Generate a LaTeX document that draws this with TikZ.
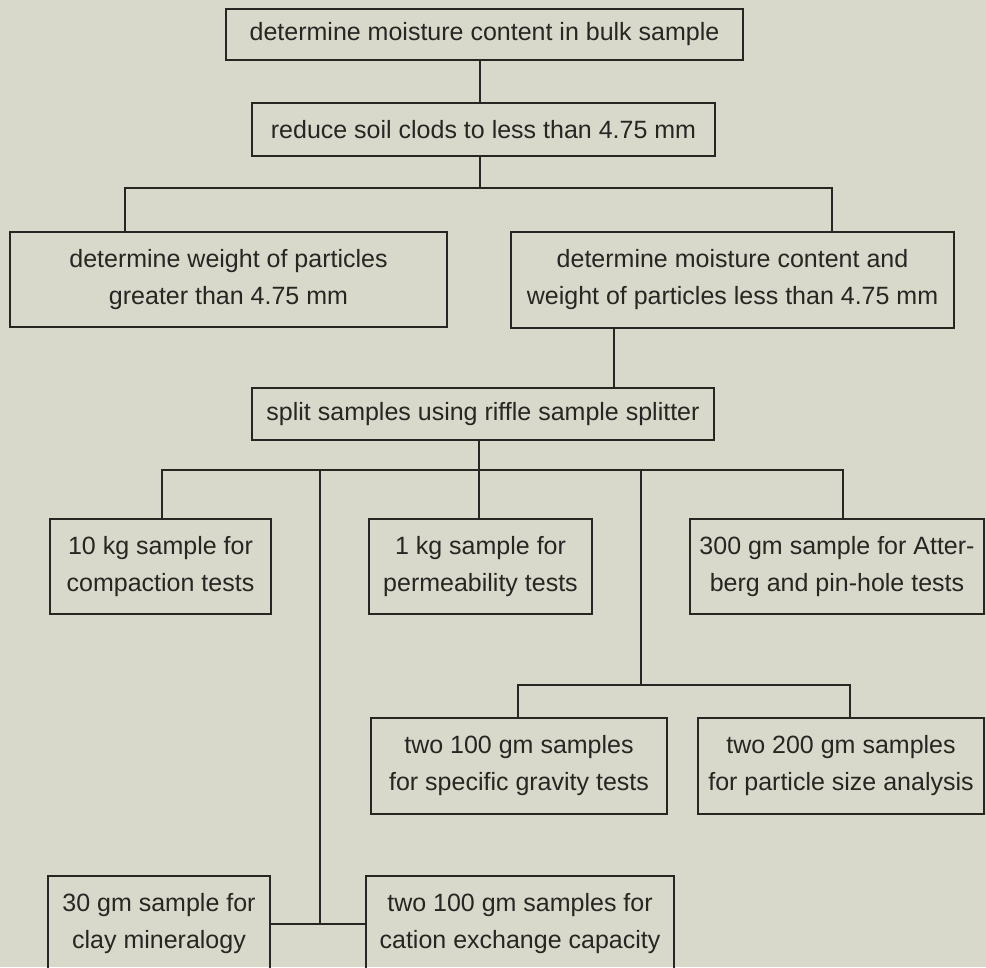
\documentclass[tikz,border=0pt]{standalone}
\usepackage{fontspec}
\setmainfont{Liberation Sans}
\usepackage{xcolor}
\usepackage{tikz}
\definecolor{paper}{RGB}{216,216,203}
\definecolor{ink}{RGB}{38,38,34}

\begin{document}
\begin{tikzpicture}[
        x=0.4pt, y=-0.4pt,
        box/.style={draw=ink, rectangle, line width=0.8pt, align=center, inner sep=2pt, text=ink, font=\fontsize{10}{14.8}\selectfont},
        link/.style={draw=ink, line width=0.8pt}
    ]

    % Paper
    \clip (0,0) rectangle (986,967);
    \fill[paper] (0,0) rectangle (986,967);

    % Nodes
    \node[box, minimum width=206.8pt, minimum height=20.4pt] (bulk) at (484.5,34.5) {determine moisture content in bulk sample};
    \node[box, minimum width=185.2pt, minimum height=21.2pt] (clods) at (483.5,129.5) {reduce soil clods to less than 4.75 mm};
    \node[box, minimum width=174.8pt, minimum height=38pt] (greater) at (228.5,279.5) {determine weight of particles\\greater than 4.75 mm};
    \node[box, minimum width=177.2pt, minimum height=38.4pt] (less) at (732.5,280) {determine moisture content and\\weight of particles less than 4.75 mm};
    \node[box, minimum width=184.8pt, minimum height=20.8pt] (split) at (483,414) {split samples using riffle sample splitter};
    \node[box, minimum width=88.4pt, minimum height=38pt] (compaction) at (160.5,566.5) {10 kg sample for\\compaction tests};
    \node[box, minimum width=89.2pt, minimum height=38pt] (perm) at (480.5,566.5) {1 kg sample for\\permeability tests};
    \node[box, minimum width=117.6pt, minimum height=38pt] (atterberg) at (837,566.5) {300 gm sample for Atter-\\berg and pin-hole tests};
    \node[box, minimum width=118.4pt, minimum height=38.4pt] (gravity) at (519,766) {two 100 gm samples\\for specific gravity tests};
    \node[box, minimum width=114.4pt, minimum height=38.4pt] (particle) at (841,766) {two 200 gm samples\\for particle size analysis};
    \node[box, minimum width=88.8pt, minimum height=38pt] (clay) at (159,923.5) {30 gm sample for\\clay mineralogy};
    \node[box, minimum width=123.2pt, minimum height=38pt] (cation) at (520,923.5) {two 100 gm samples for\\cation exchange capacity};

    % Junctions
    \coordinate (forkA) at (480,188);
    \coordinate (busAl) at (125,188);
    \coordinate (busAr) at (832,188);
    \coordinate (drop) at (614,0);
    \coordinate (forkB) at (479,470);
    \coordinate (busBl) at (162,470);
    \coordinate (busBr) at (843,470);
    \coordinate (stemC) at (641,470);
    \coordinate (busCl) at (518,685);
    \coordinate (busCr) at (850,685);
    \coordinate (stemD) at (320,470);

    % Lines
    \draw[link] (bulk.south -| forkA) -- (clods.north -| forkA);
    \draw[link] (clods.south -| forkA) -- (forkA);
    \draw[link] (greater.north -| busAl) |- (busAr) -- (less.north -| busAr);
    \draw[link] (less.south -| drop) -- (split.north -| drop);
    \draw[link] (split.south -| forkB) -- (forkB);
    \draw[link] (compaction.north -| busBl) |- (busBr) -- (atterberg.north -| busBr);
    \draw[link] (forkB) -- (perm.north -| forkB);
    \draw[link] (stemC) -- (stemC |- busCl);
    \draw[link] (gravity.north -| busCl) |- (busCr) -- (particle.north -| busCr);
    \draw[link] (stemD) -- (stemD |- clay.east);
    \draw[link] (clay.east) -- (cation.west);

\end{tikzpicture}
\end{document}
